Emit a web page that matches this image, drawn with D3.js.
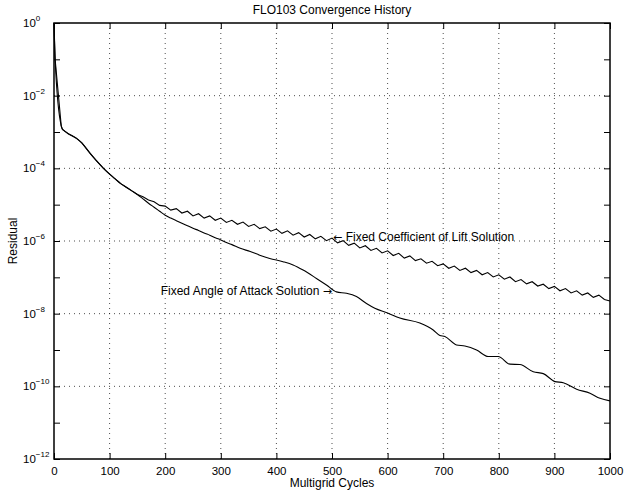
<!DOCTYPE html>
<html><head><meta charset="utf-8">
<script src="https://cdn.jsdelivr.net/npm/d3@7"></script>
<style>
body{margin:0;background:#fff}
svg{display:block}
text{font-family:"Liberation Sans",Arial,Helvetica,sans-serif;fill:#000}
</style>
</head><body>
<svg id="chart" width="624" height="494"></svg>
<script>
// ---------------- data ----------------
const chartTitle = "FLO103 Convergence History";
const xAxisLabel = "Multigrid Cycles";
const yAxisLabel = "Residual";
const xTickValues = [0, 100, 200, 300, 400, 500, 600, 700, 800, 900, 1000];
const yTickExponents = [0, -1, -2, -3, -4, -5, -6, -7, -8, -9, -10, -11, -12];
const yLabelExponents = [0, -2, -4, -6, -8, -10, -12];

// shared start of both histories (cycle, log10 residual)
const sharedCycles = [0, 2, 13, 15, 17, 25, 40, 50, 65, 75, 89, 100, 110, 120, 130, 140, 150];
const sharedLogRes = [0, -1.0, -2.83, -2.92, -2.95, -3.04, -3.17, -3.30, -3.59, -3.77, -4.0, -4.16, -4.29, -4.42, -4.52, -4.62, -4.72];

// Fixed Coefficient of Lift solution (after split)
const liftCycles = [160, 170, 180, 190, 200, 210, 220, 230, 240, 250, 260, 270, 280, 290, 300,
  310, 320, 330, 340, 350, 360, 370, 380, 390, 400, 410, 420, 430, 440, 450, 460, 470, 480, 490, 500,
  510, 520, 530, 540, 550, 560, 570, 580, 590, 600, 610, 620, 630, 640, 650, 660, 670, 680, 690, 700,
  710, 720, 730, 740, 750, 760, 770, 780, 790, 800, 810, 820, 830, 840, 850, 860, 870, 880, 890, 900,
  910, 920, 930, 940, 950, 960, 970, 980, 990, 1000];
const liftLogRes = [-4.78, -4.87, -4.92, -5.02, -5.04, -5.15, -5.11, -5.23, -5.18, -5.31, -5.25, -5.37, -5.31, -5.43, -5.37,
  -5.49, -5.43, -5.54, -5.48, -5.60, -5.54, -5.66, -5.61, -5.73, -5.67, -5.79, -5.72, -5.84, -5.77, -5.89, -5.82, -5.94, -5.87, -5.99, -5.92,
  -6.05, -5.99, -6.12, -6.06, -6.19, -6.13, -6.26, -6.20, -6.33, -6.27, -6.40, -6.34, -6.47, -6.41, -6.54, -6.49, -6.61, -6.56, -6.68, -6.63,
  -6.75, -6.69, -6.81, -6.75, -6.87, -6.81, -6.93, -6.87, -6.99, -6.93, -7.05, -6.99, -7.12, -7.06, -7.18, -7.12, -7.24, -7.19, -7.31, -7.25,
  -7.37, -7.31, -7.43, -7.37, -7.49, -7.43, -7.55, -7.49, -7.61, -7.65];

// Fixed Angle of Attack solution (after split)
const alphaCycles = [160, 170, 180, 190, 200, 210, 220, 230, 240, 250, 260, 270, 280, 290, 300, 310, 320, 335, 353, 370,
  388, 412, 430, 448, 472, 490, 508, 526, 544, 562, 577, 600, 622, 658, 682, 694, 703, 724, 739, 760,
  781, 799, 820, 838, 862, 880, 901, 916, 940, 964, 982, 1000];
const alphaLogRes = [-4.84, -4.96, -5.07, -5.18, -5.29, -5.37, -5.44, -5.51, -5.58, -5.65, -5.71, -5.78, -5.84, -5.91, -5.97, -6.04, -6.10, -6.20, -6.29, -6.39,
  -6.48, -6.57, -6.66, -6.80, -7.03, -7.21, -7.40, -7.44, -7.53, -7.72, -7.85, -7.98, -8.12, -8.26, -8.45, -8.60, -8.63, -8.86, -8.89, -9.00,
  -9.18, -9.18, -9.39, -9.40, -9.60, -9.65, -9.87, -9.90, -10.08, -10.19, -10.33, -10.40];

const annotationTexts = ["Fixed Coefficient of Lift Solution", "Fixed Angle of Attack Solution"];
const annotationArrows = ["\u2190", "\u2192"];
const annotationCycles = [502, 500];
const annotationLogRes = [-5.9, -7.37];
const annotationAnchors = ["start", "end"];

// ---------------- drawing ----------------
const W = 624, H = 494;
const svg = d3.select("#chart");
const x = d3.scaleLinear().domain([0, 1000]).range([54, 610]);
const y = d3.scaleLog().domain([1, 1e-12]).range([23, 459]);
const x0 = x.range()[0], x1 = x.range()[1], y0 = y.range()[0], y1 = y.range()[1];

svg.append("rect").attr("width", W).attr("height", H).attr("fill", "#fff");

// grid
const grid = svg.append("g").attr("stroke", "#000").attr("stroke-width", 0.7)
  .attr("stroke-dasharray", "1,4").attr("fill", "none");
xTickValues.filter(v => v > 0 && v < 1000).forEach(v => {
  grid.append("line").attr("x1", x(v)).attr("x2", x(v)).attr("y1", y0).attr("y2", y1);
});
yLabelExponents.filter(e => e < 0 && e > -12).forEach(e => {
  grid.append("line").attr("x1", x0).attr("x2", x1).attr("y1", y(10 ** e)).attr("y2", y(10 ** e));
});

// axes (ticks inward)
const tick = 6;
const fmtNone = () => "";
const ax = svg.append("g");
ax.append("g").attr("transform", `translate(0,${y1})`)
  .call(d3.axisBottom(x).tickValues(xTickValues).tickSizeInner(-tick).tickSizeOuter(0).tickPadding(8).tickFormat(d3.format("d")));
ax.append("g").attr("transform", `translate(0,${y0})`)
  .call(d3.axisTop(x).tickValues(xTickValues).tickSizeInner(-tick).tickSizeOuter(0).tickFormat(fmtNone));
const yVals = yTickExponents.map(e => 10 ** e);
ax.append("g").attr("transform", `translate(${x0},0)`)
  .call(d3.axisLeft(y).tickValues(yVals).tickSizeInner(-tick).tickSizeOuter(0).tickFormat(fmtNone));
ax.append("g").attr("transform", `translate(${x1},0)`)
  .call(d3.axisRight(y).tickValues(yVals).tickSizeInner(-tick).tickSizeOuter(0).tickFormat(fmtNone));
ax.selectAll(".domain").remove();
ax.selectAll("line").attr("stroke", "#000").attr("stroke-width", 1);
ax.selectAll("text").attr("font-size", 11.5).attr("font-family", "Liberation Sans, Arial, sans-serif");

// frame
svg.append("rect").attr("x", x0).attr("y", y0).attr("width", x1 - x0).attr("height", y1 - y0)
  .attr("fill", "none").attr("stroke", "#000").attr("stroke-width", 1.5);

// y labels 10^n
const yl = svg.append("g");
yLabelExponents.forEach(e => {
  const t = yl.append("text").attr("x", 23).attr("y", y(10 ** e) + 4).attr("font-size", 11.5);
  t.append("tspan").text("10");
  t.append("tspan").attr("dy", -6).attr("font-size", 8).text(e === 0 ? "0" : "\u2212" + Math.abs(e));
});

// curves
const lift = sharedCycles.map((c, i) => [c, sharedLogRes[i]])
  .concat(liftCycles.map((c, i) => [c, liftLogRes[i]]));
const alpha = sharedCycles.map((c, i) => [c, sharedLogRes[i]])
  .concat(alphaCycles.map((c, i) => [c, alphaLogRes[i]]));
const lineLin = d3.line().x(d => x(d[0])).y(d => y(10 ** d[1]));
const lineSmooth = d3.line().x(d => x(d[0])).y(d => y(10 ** d[1])).curve(d3.curveMonotoneX);
svg.append("path").attr("d", lineSmooth(alpha)).attr("fill", "none").attr("stroke", "#000").attr("stroke-width", 1.1);
svg.append("path").attr("d", lineLin(lift)).attr("fill", "none").attr("stroke", "#000").attr("stroke-width", 1.1);

// annotations (arrow glyph from DejaVu Sans for a full-width arrow)
annotationTexts.forEach((s, i) => {
  const t = svg.append("text").attr("x", x(annotationCycles[i])).attr("y", y(10 ** annotationLogRes[i]) + 4)
    .attr("text-anchor", annotationAnchors[i]).attr("font-size", 12);
  const arrow = () => t.append("tspan").attr("font-family", "DejaVu Sans").attr("font-size", 11).text(annotationArrows[i]);
  if (annotationAnchors[i] === "start") { arrow(); t.append("tspan").text(" " + s); }
  else { t.append("tspan").text(s + " "); arrow(); }
});

// title and axis labels
svg.append("text").attr("x", (x0 + x1) / 2).attr("y", 14).attr("text-anchor", "middle").attr("font-size", 12).text(chartTitle);
svg.append("text").attr("x", (x0 + x1) / 2).attr("y", 487).attr("text-anchor", "middle").attr("font-size", 12).text(xAxisLabel);
svg.append("text").attr("transform", `translate(16.5,${(y0 + y1) / 2}) rotate(-90)`).attr("text-anchor", "middle").attr("font-size", 12).text(yAxisLabel);
</script>
</body></html>
